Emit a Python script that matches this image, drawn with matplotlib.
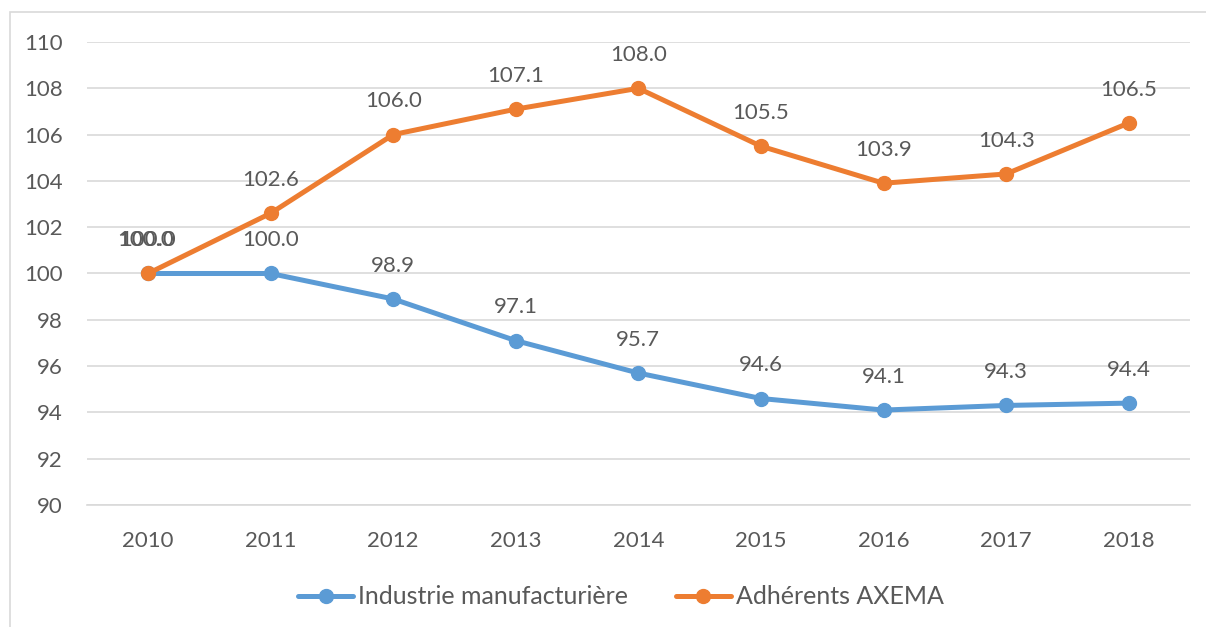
import matplotlib.pyplot as plt
from matplotlib.patches import Rectangle

years = ['2010', '2011', '2012', '2013', '2014', '2015', '2016', '2017', '2018']
industrie = [100.0, 100.0, 98.9, 97.1, 95.7, 94.6, 94.1, 94.3, 94.4]
axema = [100.0, 102.6, 106.0, 107.1, 108.0, 105.5, 103.9, 104.3, 106.5]

blue = '#5B9BD5'
orange = '#ED7D31'
grey = '#595959'

plt.rcParams['font.family'] = ['Lato', 'DejaVu Sans']

fig = plt.figure(figsize=(12.06, 6.27), dpi=100)
fig.patches.append(Rectangle((10 / 1206, -0.01), 1.0, 1 - 12 / 627 + 0.01,
                             transform=fig.transFigure, fill=False,
                             edgecolor='#d9d9d9', linewidth=1.2))

ax = fig.add_axes([0.0719, 0.1946, 0.9148, 0.7384])
x = list(range(len(years)))

ax.plot(x, industrie, color=blue, lw=3.6, marker='o', ms=10,
        label='Industrie manufacturière', solid_capstyle='round')
ax.plot(x, axema, color=orange, lw=3.6, marker='o', ms=10,
        label='Adhérents AXEMA', solid_capstyle='round')

for i, v in enumerate(industrie):
    ax.annotate(f'{v:.1f}', (i, v), xytext=(0, 24), textcoords='offset points',
                ha='center', va='center', fontsize=16, color=grey)
for i, v in enumerate(axema):
    ax.annotate(f'{v:.1f}', (i - 0.02 if i == 0 else i, v), xytext=(0, 24),
                textcoords='offset points',
                ha='center', va='center', fontsize=16, color=grey)

ax.set_xlim(-0.5, len(years) - 0.5)
ax.set_ylim(90, 110)
ax.set_yticks(range(90, 111, 2))
ax.set_xticks(x)
ax.set_xticklabels(years)
ax.tick_params(axis='both', length=0, labelsize=16, labelcolor=grey)
ax.tick_params(axis='y', pad=17)
ax.tick_params(axis='x', pad=19)
ax.grid(axis='y', color='#d9d9d9', lw=1.2)
ax.set_axisbelow(True)
for s in ['top', 'right', 'left']:
    ax.spines[s].set_visible(False)
ax.spines['bottom'].set_color('#d9d9d9')
ax.spines['bottom'].set_linewidth(1.2)

leg = fig.legend(loc='center', bbox_to_anchor=(0.515, 0.048), ncol=2, frameon=False,
                 fontsize=18, handlelength=2.2, handletextpad=0.2, columnspacing=1.9)
for t in leg.get_texts():
    t.set_color(grey)

fig.savefig('out.png', dpi=100)
